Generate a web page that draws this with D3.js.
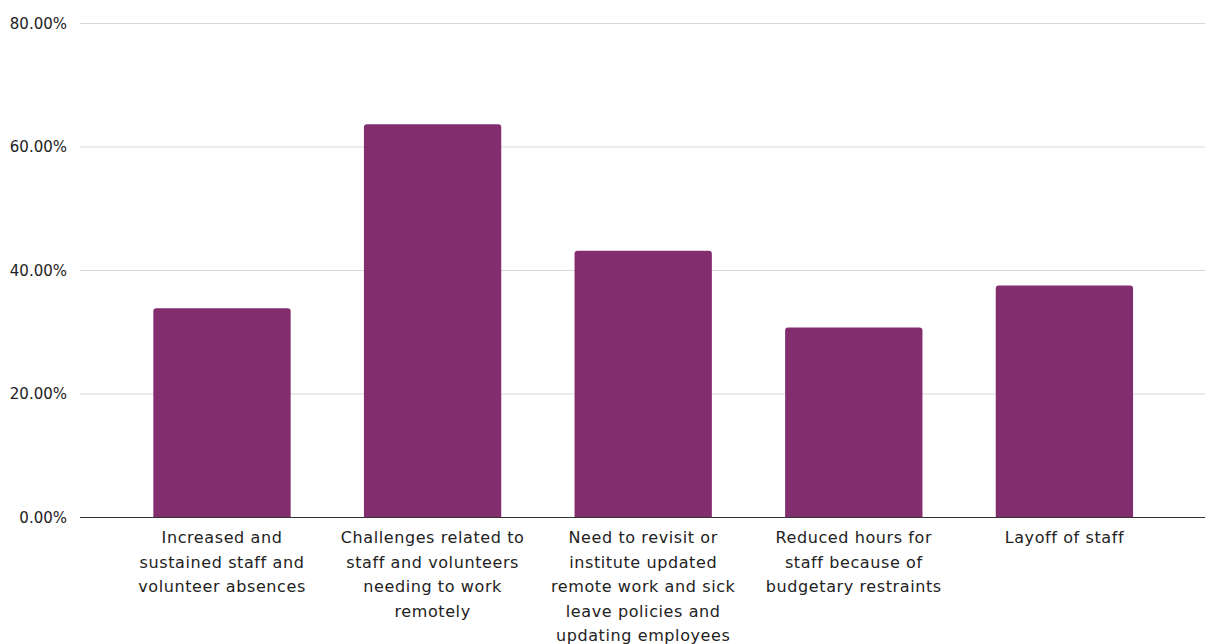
<!DOCTYPE html>
<html>
<head>
<meta charset="utf-8">
<script src="https://cdn.jsdelivr.net/npm/d3@7"></script>
<style>
  html, body { margin: 0; padding: 0; background: #fff; }
  svg { display: block; }
</style>
</head>
<body>
<svg id="chart" width="1205" height="644"></svg>
<script>
const categories = [
  "Increased and sustained staff and volunteer absences",
  "Challenges related to staff and volunteers needing to work remotely",
  "Need to revisit or institute updated remote work and sick leave policies and updating employees",
  "Reduced hours for staff because of budgetary restraints",
  "Layoff of staff"
];
const categoryLines = [
  ["Increased and", "sustained staff and", "volunteer absences"],
  ["Challenges related to", "staff and volunteers", "needing to work", "remotely"],
  ["Need to revisit or", "institute updated", "remote work and sick", "leave policies and", "updating employees"],
  ["Reduced hours for", "staff because of", "budgetary restraints"],
  ["Layoff of staff"]
];
const values = [0.338, 0.636, 0.431, 0.307, 0.375];
const yTicks = [0, 0.2, 0.4, 0.6, 0.8];

const svg = d3.select("#chart");
const W = 1205, H = 644;
const plotLeft = 80, plotRight = 1205;

const y = d3.scaleLinear().domain([0, 0.8]).range([517, 23]);
const x = d3.scaleBand().domain(categories)
  .range([116.7, 1169.7]).paddingInner(0.348).paddingOuter(0.174);

const fmt = d3.format(".2%");

// gridlines + y labels via axis
const yAxis = d3.axisLeft(y).tickValues(yTicks).tickFormat(fmt)
  .tickSize(-(plotRight - plotLeft)).tickPadding(13);
const gy = svg.append("g").attr("transform", `translate(${plotLeft},0)`).call(yAxis);
gy.select(".domain").remove();
gy.selectAll(".tick line").attr("stroke", "#d9d9d9").attr("stroke-width", 1.2);
gy.selectAll(".tick text")
  .attr("font-family", "DejaVu Sans, Verdana, sans-serif")
  .attr("font-size", 15).attr("fill", "#222")
  .attr("x", -13).attr("dy", "0.35em");

// bars with rounded top corners
const r = 3;
function barPath(x0, w, yTop, yBot) {
  return `M${x0},${yBot} V${yTop + r} Q${x0},${yTop} ${x0 + r},${yTop} H${x0 + w - r} Q${x0 + w},${yTop} ${x0 + w},${yTop + r} V${yBot} Z`;
}
svg.append("g").selectAll("path").data(values).join("path")
  .attr("d", (d, i) => barPath(x(categories[i]), x.bandwidth(), y(d), y(0)))
  .attr("fill", "#822d6e");

// baseline
svg.append("line")
  .attr("x1", plotLeft).attr("x2", plotRight)
  .attr("y1", y(0) + 0.5).attr("y2", y(0) + 0.5)
  .attr("stroke", "#333").attr("stroke-width", 1);

// x labels
const xAxis = d3.axisBottom(x).tickSize(0).tickFormat(() => "");
const gx = svg.append("g").attr("transform", `translate(0,${y(0)})`).call(xAxis);
gx.select(".domain").remove();
gx.selectAll(".tick").each(function(d, i) {
  const t = d3.select(this).select("text")
    .attr("font-family", "DejaVu Sans, Verdana, sans-serif")
    .attr("font-size", 16).attr("fill", "#222")
    .attr("letter-spacing", "0.6px")
    .attr("text-anchor", "middle")
    .attr("y", 0).attr("dy", null);
  t.selectAll("tspan").data(categoryLines[i]).join("tspan")
    .attr("x", 0).attr("y", (l, j) => 26 + j * 24.5)
    .text(l => l);
});
</script>
</body>
</html>
